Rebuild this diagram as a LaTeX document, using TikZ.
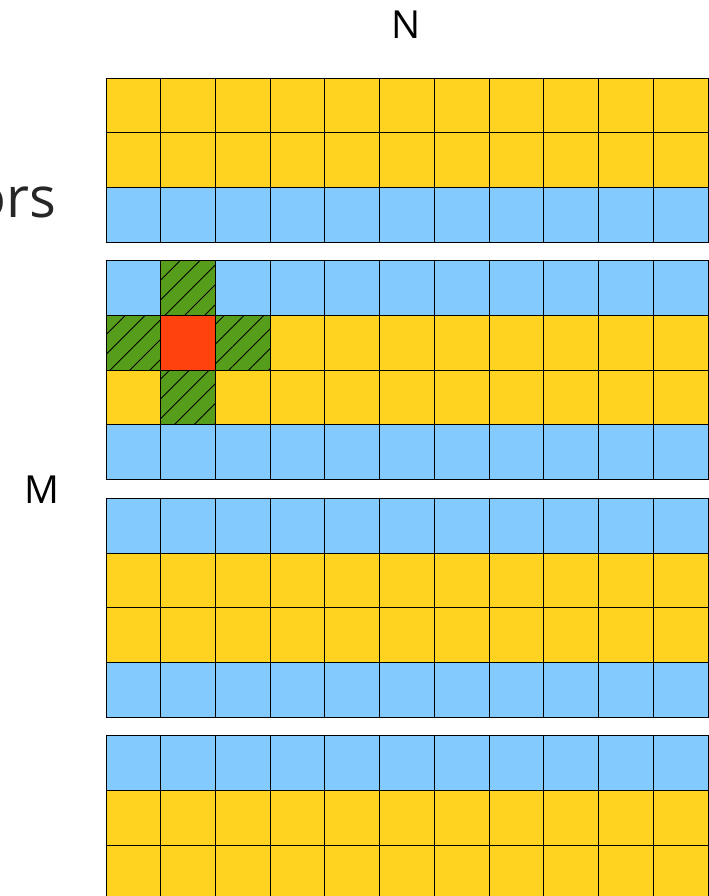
\documentclass[tikz,border=0pt]{standalone}
\usepackage{fontspec}
\setmainfont{Open Sans}
\usetikzlibrary{patterns.meta}
\definecolor{gridYellow}{RGB}{255,211,32}
\definecolor{gridBlue}{RGB}{131,202,255}
\definecolor{gridRed}{RGB}{255,66,14}
\definecolor{gridGreen}{RGB}{87,157,28}
\definecolor{labelGray}{RGB}{38,38,38}
\begin{document}
\begin{tikzpicture}[x=0.02cm,y=-0.02cm]
\tikzset{cell/.style={draw=black,line width=0.55pt},
  halo/.style={cell,preaction={fill=gridGreen},pattern={Lines[angle=45,distance=0.28cm,line width=0.5pt]},pattern color=black},
  axislabel/.style={text=black,inner sep=0pt,font=\fontsize{22}{26}\selectfont}}
\useasboundingbox (0,0) rectangle (709,896);
\clip (0,0) rectangle (709,896);

% rows of the four blocks
\foreach \y/\c in {78/gridYellow,132.7/gridYellow,187.4/gridBlue,
  260.8/gridBlue,315.5/gridYellow,370.2/gridYellow,424.9/gridBlue,
  498.3/gridBlue,553/gridYellow,607.7/gridYellow,662.4/gridBlue,
  735.8/gridBlue,790.5/gridYellow,845.2/gridYellow}
  \foreach \i in {0,...,10}
    \draw[cell,fill=\c] ({106+54.73*\i},\y) rectangle ++(54.73,54.7);

% stencil
\draw[halo] (160.73,260.8) rectangle ++(54.73,54.7);
\draw[halo] (106,315.5) rectangle ++(54.73,54.7);
\draw[halo] (215.46,315.5) rectangle ++(54.73,54.7);
\draw[halo] (160.73,370.2) rectangle ++(54.73,54.7);
\draw[cell,fill=gridRed] (160.73,315.5) rectangle ++(54.73,54.7);

\node[axislabel] (labelN) at (406,25) {N};
\node[axislabel] (labelM) at (42,490) {M};
\node[text=labelGray,anchor=base east,inner sep=0pt,font=\fontsize{32}{38}\selectfont] (labelOrs) at (56.5,217) {ors};
\end{tikzpicture}
\end{document}
